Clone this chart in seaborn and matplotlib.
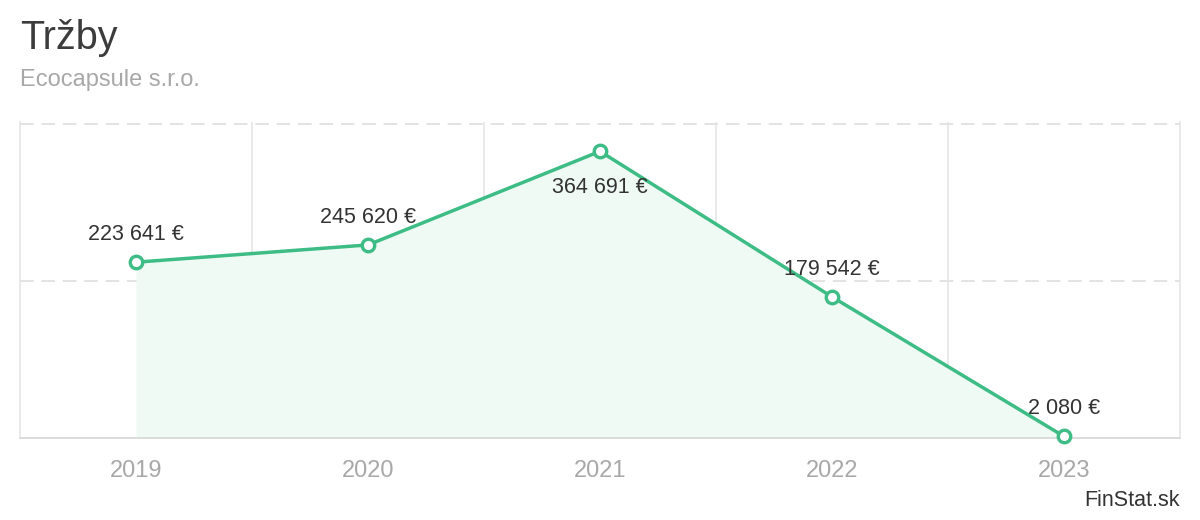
import matplotlib
matplotlib.use("Agg")
import matplotlib.pyplot as plt
import seaborn as sns
import pandas as pd

years = ["2019", "2020", "2021", "2022", "2023"]
revenue = [223641, 245620, 364691, 179542, 2080]
labels = ["223 641 €", "245 620 €", "364 691 €", "179 542 €", "2 080 €"]
label_offsets = [(0, 20), (0, 20), (0, -26), (0, 20), (0, 20)]  # in points

sns.set_theme(style="white")
plt.rcParams['font.family'] = ['Liberation Sans', 'DejaVu Sans']

GREEN = "#3dbd85"
FILL = "#effaf5"
GRID = "#e3e3e3"

df = pd.DataFrame({"x": range(len(years)), "y": revenue})

fig = plt.figure(figsize=(12, 5.2), dpi=100)
ax = fig.add_axes([20/1200, 1-438/520, 1160/1200, (438-122)/520])

ax.fill_between(df["x"], df["y"], 0, color=FILL, zorder=1, linewidth=0)
sns.lineplot(data=df, x="x", y="y", ax=ax, color=GREEN, linewidth=2.5,
             marker="o", markersize=9, markerfacecolor="white",
             markeredgecolor=GREEN, markeredgewidth=2.4, zorder=5, clip_on=False)

ax.set_xlim(-0.5, len(years) - 0.5)
ax.set_ylim(0, 402000)

# grid
ax.set_yticks([200000, 400000])
ax.set_yticklabels([])
ax.yaxis.grid(True, color=GRID, linestyle=(0, (7, 4)), linewidth=1.4)
ax.set_xticks([i + 0.5 for i in range(len(years) - 1)], minor=True)
ax.xaxis.grid(True, which="minor", color=GRID, linestyle="-", linewidth=1.1)
ax.set_xticks(range(len(years)))
ax.set_xticklabels(years, color="#a8a8a8", fontsize=17)
ax.tick_params(axis="x", which="both", length=0, pad=16)
ax.tick_params(axis="y", length=0)
ax.set_axisbelow(True)
ax.set_xlabel("")
ax.set_ylabel("")

ax.spines["top"].set_visible(False)
for s in ["left", "right"]:
    ax.spines[s].set_color(GRID)
    ax.spines[s].set_linewidth(1.1)
ax.spines["bottom"].set_color("#dcdcdc")
ax.spines["bottom"].set_linewidth(1.4)

for i, (v, t, off) in enumerate(zip(revenue, labels, label_offsets)):
    ax.annotate(t, (i, v), xytext=off, textcoords="offset points",
                ha="center", va="center", fontsize=15.5, color="#333333", zorder=6)

fig.text(20/1200, 1-38/520, "Tržby", fontsize=28.5, color="#3c3c3c", va="center", ha="left")
fig.text(20/1200, 1-80/520, "Ecocapsule s.r.o.", fontsize=17, color="#a8a8a8", va="center", ha="left")
fig.text(1180/1200, 1-500/520, "FinStat.sk", fontsize=15.5, color="#333333", va="center", ha="right")

fig.savefig("out.png", dpi=100)
